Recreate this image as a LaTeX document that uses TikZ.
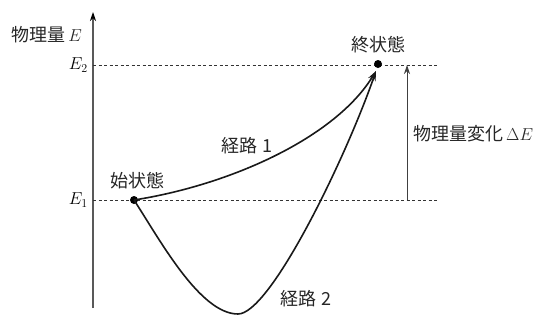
\documentclass[tikz,border=0pt]{standalone}
\usepackage{fontspec}
\newfontfamily\cjk{Noto Sans CJK JP}
\usetikzlibrary{arrows.meta}
\begin{document}
\begin{tikzpicture}[x=1pt,y=-1pt,
  lbl/.style={font=\cjk\fontsize{18}{20}\selectfont, text=black!85, inner sep=0pt},
  mlbl/.style={font=\fontsize{18}{20}\selectfont, inner sep=0pt},
  axisline/.style={line width=1.1pt, draw=black!65, -{Stealth[length=9pt,width=6pt,color=black]}},
  guide/.style={line width=0.8pt, dash pattern=on 3pt off 2.5pt, draw=black!80},
  route/.style={line width=1.6pt, draw=black!90, -{Stealth[length=10pt,width=6pt]}},
  delta/.style={line width=0.9pt, draw=black!75, -{Stealth[length=9pt,width=6pt]}},
  dot/.style={circle, fill=black, inner sep=0pt, minimum size=8pt}]
\useasboundingbox (0,0) rectangle (540,322);
% axis
\coordinate (ax0) at (93,308);
\coordinate (ax1) at (93,12);
\draw[axisline] (ax0) -- (ax1);
% guide lines
\coordinate (g2a) at (93,65);
\coordinate (g2b) at (437,65);
\coordinate (g1a) at (93,200);
\coordinate (g1b) at (437,200);
\draw[guide] (g2a) -- (g2b);
\draw[guide] (g1a) -- (g1b);
% labels on axis
\node[lbl, anchor=east] (ylab) at (82,35) {物理量\,$E$};
\node[mlbl, anchor=east] (e2) at (88,65) {$E_2$};
\node[mlbl, anchor=east] (e1) at (88,200) {$E_1$};
% states
\node[dot] (start) at (134,200) {};
\node[dot] (end) at (378,64) {};
\coordinate (tip) at (376,71);
\coordinate (bottom) at (238,314);
\node[lbl] (slab) at (137,181) {始状態};
\node[lbl] (elab) at (378,45) {終状態};
% routes
\draw[route] (start.center) .. controls (230,185) and (335,138) .. (tip);
\draw[route] (start.center) .. controls (160,240) and (200,314) .. (bottom)
   .. controls (270,314) and (345,160) .. (tip);
\node[lbl] (r1) at (247,146) {経路 1};
\node[lbl] (r2) at (306,299) {経路 2};
% delta E
\coordinate (d0) at (407,200);
\coordinate (d1) at (407,65);
\draw[delta] (d0) -- (d1);
\node[lbl, anchor=west] (dlab) at (413,134) {物理量変化\,$\Delta E$};
\end{tikzpicture}
\end{document}
